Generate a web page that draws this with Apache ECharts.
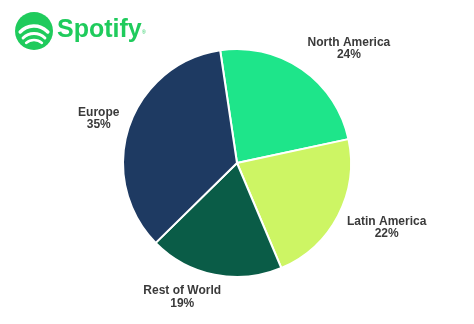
<!DOCTYPE html>
<html><head><meta charset="utf-8">
<script src="https://cdn.jsdelivr.net/npm/echarts@6/dist/echarts.min.js"></script>
<style>html,body{margin:0;padding:0;background:#fff}#c{width:474px;height:324px}</style>
</head><body><div id="c"></div>
<script>
const categories = ['North America', 'Latin America', 'Rest of World', 'Europe'];
const shares = [24, 22, 19, 35];
const colors = ['#1ee58a', '#cdf564', '#0a5c47', '#1e3a62'];

const chart = echarts.init(document.getElementById('c'));
chart.setOption({
  backgroundColor: '#ffffff',
  animation: false,
  graphic: [
    { type: 'circle', shape: { cx: 34, cy: 31, r: 19 }, style: { fill: '#1fcb5c' } },
    { type: 'arc', shape: { cx: 34, cy: 45, r: 19, startAngle: -Math.PI*0.76, endAngle: -Math.PI*0.24 }, style: { stroke: '#fff', lineWidth: 3.4, fill: null, lineCap: 'round' } },
    { type: 'arc', shape: { cx: 34, cy: 49, r: 15.5, startAngle: -Math.PI*0.75, endAngle: -Math.PI*0.25 }, style: { stroke: '#fff', lineWidth: 2.9, fill: null, lineCap: 'round' } },
    { type: 'arc', shape: { cx: 34, cy: 52, r: 12, startAngle: -Math.PI*0.73, endAngle: -Math.PI*0.27 }, style: { stroke: '#fff', lineWidth: 2.4, fill: null, lineCap: 'round' } },
    { type: 'text', left: 57, top: 18, style: { text: 'Spotify', fill: '#1fcb5c', font: 'bold 25px "Liberation Sans", Arial, sans-serif' } },
    { type: 'text', left: 142, top: 30, style: { text: '®', fill: '#1fcb5c', font: '5px "Liberation Sans", Arial, sans-serif' } }
  ],
  series: [{
    type: 'pie',
    center: [237, 163],
    radius: 114,
    startAngle: 98.5,
    clockwise: true,
    data: categories.map((n, i) => ({ name: n, value: shares[i], itemStyle: { color: colors[i] } })),
    itemStyle: { borderColor: '#ffffff', borderWidth: 2 },
    label: {
      show: true,
      position: 'outside',
      formatter: '{b}\n{d}%',
      fontFamily: '"Liberation Sans", Arial, sans-serif',
      fontWeight: 'bold',
      fontSize: 12,
      color: '#3a3a3a',
      lineHeight: 12.5
    },
    labelLine: { show: true, length: 10, length2: 0, lineStyle: { opacity: 0 } },
    labelLayout: function (p) {
      const pts = p.labelLinePoints;
      if (!pts) return {};
      const a = pts[1], s = pts[0];
      const dx = a[0] - s[0], dy = a[1] - s[1];
      const len = Math.sqrt(dx * dx + dy * dy) || 1;
      const ux = dx / len, uy = dy / len;
      const w = p.labelRect.width, h = p.labelRect.height;
      const fx = Math.sign(ux) * Math.min(1, Math.abs(ux) * 4);
      const fy = Math.sign(uy) * Math.min(1, Math.abs(uy) * 1.3);
      return {
        align: 'center', verticalAlign: 'middle',
        x: a[0] + fx * w / 2,
        y: a[1] + fy * h / 2
      };
    }
  }]
});
</script></body></html>
